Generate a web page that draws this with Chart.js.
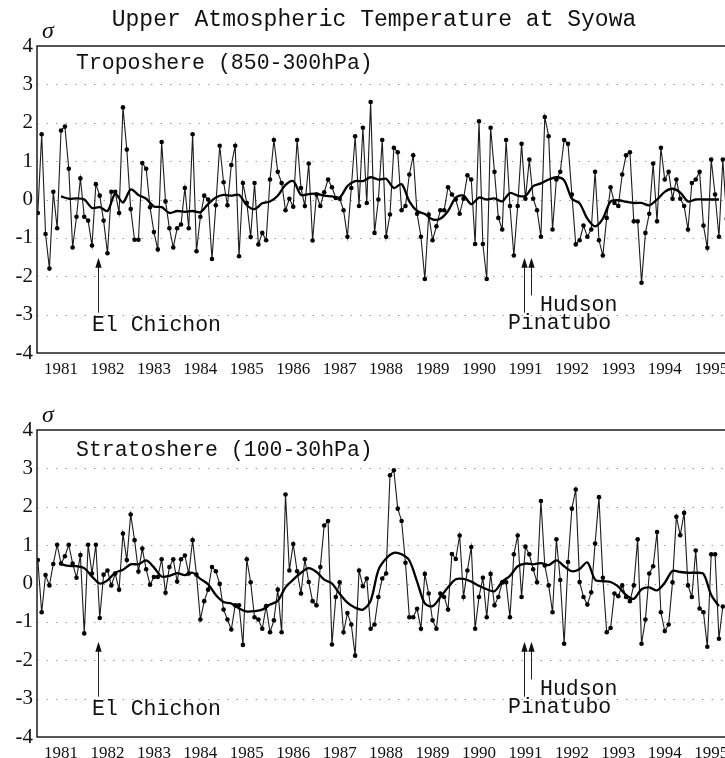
<!DOCTYPE html>
<html><head><meta charset="utf-8">
<script src="https://cdn.jsdelivr.net/npm/chart.js@4/dist/chart.umd.min.js"></script>
<style>
html,body{margin:0;padding:0;background:#fff;overflow:hidden;width:725px;height:758px;}
#wrap{position:relative;width:725px;height:758px;overflow:hidden;background:#fff;}
canvas{position:absolute;left:0;}
#c1{top:0px;}
#c2{top:384px;}
</style></head><body>
<div id="wrap">
<canvas id="c1" width="745" height="385" style="width:745px;height:385px"></canvas>
<canvas id="c2" width="745" height="385" style="width:745px;height:385px"></canvas>
</div>
<script>
// Monthly series, month 0 = January 1981
const yearLabels = ['1981','1982','1983','1984','1985','1986','1987','1988','1989','1990','1991','1992','1993','1994','1995'];
const yTickLabels = ['-4','-3','-2','-1','0','1','2','3','4'];

const tropoValues = [
-0.35,1.7,-0.9,-1.8,0.2,-0.75,1.8,1.9,0.8,-1.25,
-0.45,0.55,-0.45,-0.55,-1.2,0.4,0.1,-0.55,-1.4,0.2,
0.2,-0.35,2.4,1.3,-0.25,-1.05,-1.05,0.95,0.8,-0.2,
-0.85,-1.3,1.5,-0.05,-0.75,-1.25,-0.75,-0.65,0.3,-0.75,
1.7,-1.35,-0.45,0.1,0.0,-1.55,-0.15,1.4,0.45,-0.15,
0.9,1.4,-1.48,0.43,-0.09,-0.98,0.43,-1.17,-0.87,-1.06,
0.52,1.55,0.72,0.43,-0.28,0.02,-0.19,1.55,0.3,-0.17,
0.94,-1.07,0.13,-0.17,0.19,0.52,0.32,0.04,0.02,-0.28,
-0.97,0.3,1.65,-0.17,1.87,-0.09,2.54,-0.87,0.0,1.55,
-0.97,-0.39,1.35,1.23,-0.28,-0.17,0.65,1.15,-0.37,-0.97,
-2.07,-0.39,-1.06,-0.7,-0.28,-0.28,0.32,0.13,0.0,-0.37,
0.02,0.63,0.52,-1.16,2.04,-1.16,-2.07,1.87,0.72,-0.48,
-0.78,1.55,-0.17,-1.46,-0.17,1.45,0.02,1.04,0.02,-0.28,
-0.97,2.15,1.65,-0.78,0.52,0.72,1.55,1.45,0.13,-1.17,
-1.06,-0.68,-0.97,-0.78,0.72,-1.06,-1.46,-0.48,0.32,-0.09,
-0.17,0.65,1.15,1.23,-0.57,-0.57,-2.17,-0.87,-0.37,0.94,
-0.57,1.35,0.52,0.72,0.02,0.52,0.02,-0.17,-0.78,0.43,
0.52,0.72,-0.68,-1.26,1.04,0.13,-0.97,1.04,-0.5];

// running mean read every 2 months, starting at month 6
const smoothStart = 6;
const smoothStep = 2;
const tropoSmooth = [
0.08,0.02,0.03,0.0,-0.22,-0.2,-0.3,0.15,-0.08,0.26,
0.12,0.02,-0.18,-0.2,-0.35,-0.3,-0.32,-0.3,-0.33,-0.12,
0.05,0.12,0.1,0.12,-0.15,-0.25,-0.1,-0.05,0.1,0.38,
0.48,0.12,0.14,0.15,0.1,0.08,0.05,0.35,0.48,0.48,
0.58,0.52,0.54,0.3,0.4,-0.05,-0.3,-0.38,-0.52,-0.5,
-0.3,0.05,0.1,-0.12,0.05,0.0,0.03,-0.05,0.17,0.1,
0.09,0.35,0.42,0.52,0.58,0.5,0.02,-0.1,-0.5,-0.7,
-0.5,-0.05,-0.02,-0.06,-0.09,-0.09,-0.15,0.0,0.2,0.28,
0.18,-0.05,0.0,0.0,0.0,0.0];

const stratoValues = [
0.61,-0.75,0.22,-0.05,0.51,1.01,0.52,0.71,1.01,0.52,
0.15,0.74,-1.3,1.01,0.26,1.01,-0.9,0.23,0.34,-0.05,
0.26,-0.16,1.3,0.61,1.8,1.13,0.31,0.91,0.37,-0.03,
0.17,0.17,0.63,-0.24,0.43,0.63,0.05,0.63,0.73,0.26,
1.13,0.23,-0.94,-0.46,-0.16,0.43,0.32,-0.01,-0.68,-0.94,
-1.2,-0.57,-0.57,-1.6,0.63,0.03,-0.88,-0.94,-1.18,-0.59,
-1.27,-0.96,-0.16,-1.27,2.32,0.34,1.03,0.32,-0.26,0.63,
0.04,-0.46,-0.57,0.43,1.51,1.63,-1.59,-0.35,0.03,-1.27,
-0.77,-1.07,-1.88,0.34,-0.07,0.13,-1.18,-1.07,-0.35,0.13,
0.26,2.82,2.95,1.95,1.63,0.54,-0.88,-0.88,-0.66,-1.18,
0.25,-0.26,-0.96,-1.18,-0.26,-0.35,-0.68,0.77,0.64,1.25,
-0.35,0.34,0.95,-1.18,-0.35,0.15,-0.88,0.25,-0.57,-0.35,
0.03,0.03,-0.88,0.76,1.25,-0.35,0.96,0.76,0.37,0.03,
2.15,0.47,-0.05,-0.75,1.15,0.09,-1.57,0.56,1.95,2.45,
0.04,-0.35,-0.55,-0.23,1.04,2.25,0.15,-1.27,-1.16,-0.26,
-0.33,-0.05,-0.35,-0.46,-0.05,1.15,-1.57,-0.94,0.26,0.45,
1.34,-0.75,-1.24,-1.07,0.03,1.74,1.26,1.84,-0.05,-0.35,
0.86,-0.65,-0.75,-1.65,0.76,0.76,-1.44,-0.6];

const stratoSmooth = [
0.5,0.46,0.45,0.4,0.18,0.0,0.08,0.28,0.36,0.5,
0.5,0.6,0.42,0.18,0.2,0.27,0.22,0.28,0.12,-0.02,
-0.3,-0.48,-0.52,-0.65,-0.73,-0.72,-0.68,-0.55,-0.45,-0.1,
0.1,0.28,0.4,0.3,0.1,0.0,-0.27,-0.5,-0.63,-0.68,
-0.45,0.35,0.65,0.8,0.76,0.6,0.05,-0.52,-0.59,-0.36,
-0.1,0.11,0.12,0.05,-0.06,-0.15,-0.2,0.05,0.2,0.45,
0.52,0.5,0.53,0.48,0.6,0.45,0.32,0.38,0.55,0.1,
0.06,0.04,-0.08,-0.3,-0.4,-0.15,-0.1,-0.18,0.02,0.33,
0.3,0.28,0.28,0.25,-0.3,-0.59];

// eruptions (month index from Jan 1981)
const eruptionNames = ['El Chichon','Pinatubo','Hudson'];
const eruptionMonths = [15.5, 125.5, 127.5];

const toPoints = (arr, start, step) => arr.map((v, i) => ({x: start + i * step, y: v}));

const decor = {
  id: 'decor',
  beforeDatasetsDraw(chart) {
    const {ctx, chartArea: a, scales: {y}} = chart;
    ctx.save();
    ctx.strokeStyle = '#9c9c9c';
    ctx.lineWidth = 1;
    ctx.setLineDash([1.5, 8]);
    for (let v = -3; v <= 3; v++) {
      const py = Math.round(y.getPixelForValue(v)) + 0.5;
      ctx.beginPath(); ctx.moveTo(a.left, py); ctx.lineTo(a.right, py); ctx.stroke();
    }
    ctx.restore();
  },
  afterDraw(chart) {
    const o = chart.options.plugins.decor;
    const {ctx, chartArea: a, scales: {x, y}} = chart;
    ctx.save();
    ctx.strokeStyle = '#1e1e1e';
    ctx.lineWidth = 1.5;
    ctx.strokeRect(a.left, a.top, a.right - a.left, a.bottom - a.top);
    ctx.fillStyle = '#111';
    ctx.textBaseline = 'middle';
    if (o.title) {
      ctx.font = '23px "Liberation Mono"';
      ctx.textAlign = 'center';
      ctx.fillText(o.title, 374, 20);
    }
    ctx.textAlign = 'left';
    ctx.font = 'italic 24px "Liberation Serif"';
    ctx.fillText('\u03c3', 42, 32);
    ctx.font = '21.5px "Liberation Mono"';
    ctx.fillText(o.panel, 76, o.panelY);
    ctx.fillText(eruptionNames[0], 92, 325);
    ctx.fillText(eruptionNames[2], 540, 305);
    ctx.fillText(eruptionNames[1], 508, 323);
    // arrows
    const tails = [-2.95, -2.95, -2.5];
    ctx.strokeStyle = '#222';
    ctx.lineWidth = 1;
    eruptionMonths.forEach((m, i) => {
      const px = Math.round(x.getPixelForValue(m)) + 0.5;
      const tip = y.getPixelForValue(-1.52);
      const tail = y.getPixelForValue(tails[i]);
      ctx.beginPath(); ctx.moveTo(px, tail); ctx.lineTo(px, tip + 6); ctx.stroke();
      ctx.beginPath(); ctx.moveTo(px, tip); ctx.lineTo(px - 3.2, tip + 10); ctx.lineTo(px + 3.2, tip + 10); ctx.closePath(); ctx.fill();
    });
    ctx.restore();
  }
};

function makeChart(id, values, smooth, title, panel, panelY) {
  return new Chart(document.getElementById(id), {
    type: 'line',
    data: {
      datasets: [
        { data: toPoints(values, 0, 1), borderColor: '#1c1c1c', borderWidth: 1.1,
          pointRadius: 2.3, pointBackgroundColor: '#000', pointBorderWidth: 0, tension: 0, order: 2 },
        { data: toPoints(smooth, smoothStart, smoothStep), borderColor: '#000', borderWidth: 2.3,
          pointRadius: 0, tension: 0.3, order: 1 }
      ]
    },
    options: {
      responsive: false, animation: false, devicePixelRatio: 1,
      layout: { padding: { top: 46, right: 5, left: 0, bottom: 0 } },
      plugins: { legend: { display: false }, tooltip: { enabled: false },
        decor: { title: title, panel: panel, panelY: panelY } },
      scales: {
        x: { type: 'linear', min: -0.21, max: 181.44,
          afterBuildTicks: s => { s.ticks = yearLabels.map((l, i) => ({ value: 6 + 12 * i })); },
          afterFit: s => { s.height = 32; },
          grid: { display: false, drawTicks: false }, border: { display: false },
          ticks: { autoSkip: false, maxRotation: 0, padding: 6, color: '#111',
            font: { family: '"Liberation Sans Narrow", "Liberation Serif"', size: 17 },
            callback: (v, i) => yearLabels[i] } },
        y: { min: -4, max: 4,
          afterBuildTicks: s => { s.ticks = yTickLabels.map((l, i) => ({ value: i - 4 })); },
          afterFit: s => { s.width = 37; },
          grid: { display: false, drawTicks: false }, border: { display: false },
          ticks: { padding: 4, color: '#111', font: { family: '"Liberation Serif"', size: 21 },
            callback: (v, i) => yTickLabels[i] } }
      }
    },
    plugins: [decor]
  });
}

makeChart('c1', tropoValues, tropoSmooth, 'Upper Atmospheric Temperature at Syowa', 'Troposhere (850-300hPa)', 63);
makeChart('c2', stratoValues, stratoSmooth, null, 'Stratoshere (100-30hPa)', 66);
</script>
</body></html>
